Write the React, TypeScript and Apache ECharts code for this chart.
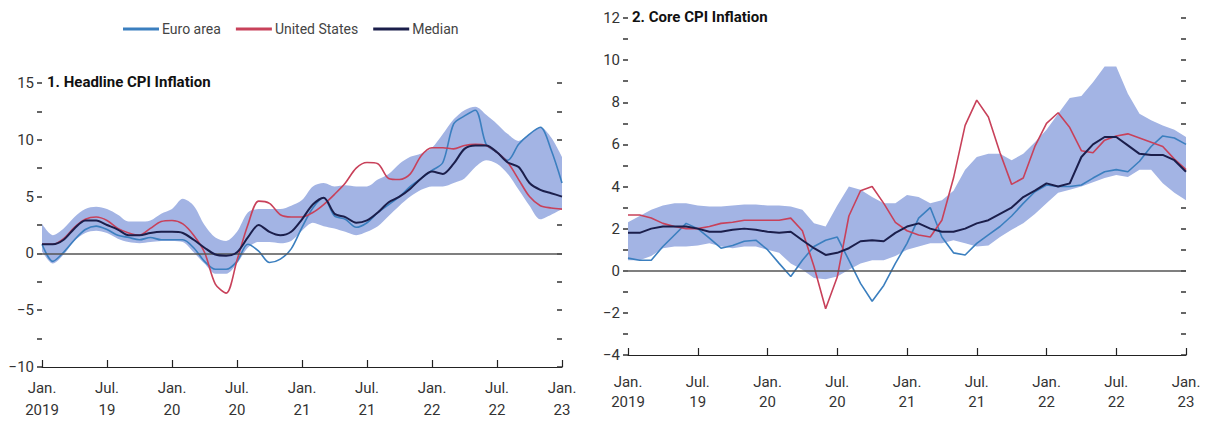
import React, { useEffect, useRef } from "react";
import * as echarts from "echarts";

const months = [
  "2019-01","2019-02","2019-03","2019-04","2019-05","2019-06","2019-07","2019-08","2019-09","2019-10","2019-11","2019-12",
  "2020-01","2020-02","2020-03","2020-04","2020-05","2020-06","2020-07","2020-08","2020-09","2020-10","2020-11","2020-12",
  "2021-01","2021-02","2021-03","2021-04","2021-05","2021-06","2021-07","2021-08","2021-09","2021-10","2021-11","2021-12",
  "2022-01","2022-02","2022-03","2022-04","2022-05","2022-06","2022-07","2022-08","2022-09","2022-10","2022-11","2022-12",
  "2023-01",
];
const tickLabels = ["Jan.\n2019", "Jul.\n19", "Jan.\n20", "Jul.\n20", "Jan.\n21", "Jul.\n21", "Jan.\n22", "Jul.\n22", "Jan.\n23"];
const legendNames = ["Euro area", "United States", "Median"];

// Panel 1: Headline CPI inflation
const headEuro = [0.8, -0.7, 0.1, 1.2, 2.1, 2.4, 2.1, 1.6, 1.4, 1.2, 1.4, 1.2, 1.2, 1.2, 0.5, -0.7, -1.4, -1.4, -0.7, 0.8, 0.2, -0.8, -0.5, 0.4, 2.3, 4.0, 4.9, 3.3, 3.0, 2.3, 2.7, 3.6, 4.3, 5.0, 5.9, 6.6, 7.3, 8.0, 11.4, 12.1, 12.6, 9.6, 8.9, 8.2, 9.6, 10.5, 11.1, 9.1, 6.2];
const headUS = [0.8, 0.8, 1.3, 2.3, 3.0, 3.2, 2.9, 2.2, 1.8, 1.6, 2.2, 2.8, 2.9, 2.6, 1.6, 0.1, -2.7, -3.5, -0.6, 2.5, 4.6, 4.4, 3.4, 3.2, 3.2, 3.6, 4.3, 5.2, 6.2, 7.5, 8.0, 7.9, 6.6, 6.5, 7.0, 8.6, 9.3, 9.3, 9.2, 9.5, 9.6, 9.5, 8.9, 8.0, 6.5, 5.0, 4.2, 4.0, 3.9];
const headMedian = [0.8, 0.8, 1.2, 2.2, 2.9, 2.9, 2.5, 2.1, 1.6, 1.6, 1.8, 1.9, 1.9, 1.8, 1.2, 0.5, -0.1, -0.2, 0.1, 1.4, 2.5, 1.9, 1.6, 1.9, 3.0, 4.3, 4.9, 3.5, 3.2, 2.7, 2.9, 3.6, 4.5, 5.0, 5.7, 6.6, 7.2, 7.0, 7.9, 9.2, 9.5, 9.5, 8.9, 8.0, 7.6, 6.2, 5.6, 5.3, 5.0];
const headLow = [0.2, -0.9, -0.1, 1.1, 1.8, 2.0, 1.8, 1.3, 1.0, 0.9, 1.0, 1.1, 1.1, 1.0, 0.1, -0.9, -1.8, -1.8, -0.9, 0.5, 1.0, 1.0, 0.9, 1.1, 2.0, 2.7, 2.4, 2.2, 1.9, 1.6, 1.9, 2.4, 3.3, 4.2, 5.0, 5.6, 5.9, 5.9, 6.2, 6.6, 7.6, 8.2, 7.9, 7.0, 5.6, 4.2, 3.0, 3.4, 3.9];
const headHigh = [2.6, 1.6, 2.2, 3.2, 3.9, 4.1, 3.9, 3.4, 2.8, 2.8, 2.9, 3.5, 3.9, 4.8, 4.2, 2.5, 1.4, 1.1, 1.9, 3.6, 3.9, 3.9, 3.9, 4.2, 4.7, 5.9, 6.2, 5.9, 6.0, 5.9, 5.9, 6.5, 7.0, 7.9, 8.5, 8.8, 9.3, 10.5, 11.8, 12.6, 12.9, 12.2, 11.4, 10.5, 9.9, 10.5, 11.1, 10.2, 8.5];

// Panel 2: Core CPI inflation
const coreEuro = [0.6, 0.5, 0.5, 1.15, 1.7, 2.25, 2.0, 1.55, 1.07, 1.2, 1.4, 1.45, 1.0, 0.35, -0.27, 0.5, 1.15, 1.45, 1.6, 0.5, -0.6, -1.45, -0.7, 0.35, 1.3, 2.5, 3.0, 1.6, 0.85, 0.75, 1.3, 1.7, 2.1, 2.6, 3.2, 3.75, 4.07, 4.0, 4.0, 4.07, 4.4, 4.7, 4.8, 4.7, 5.2, 5.9, 6.4, 6.3, 6.0];
const coreUS = [2.65, 2.65, 2.5, 2.25, 2.1, 2.0, 2.0, 2.1, 2.25, 2.3, 2.4, 2.4, 2.4, 2.4, 2.5, 1.9, 0.2, -1.8, -0.3, 2.6, 3.8, 4.0, 3.2, 2.3, 1.9, 1.7, 1.6, 2.4, 4.4, 6.9, 8.1, 7.3, 5.6, 4.1, 4.4, 5.9, 7.0, 7.5, 6.8, 5.7, 5.6, 6.2, 6.4, 6.5, 6.3, 6.1, 5.9, 5.3, 4.8];
const coreMedian = [1.8, 1.8, 2.0, 2.1, 2.1, 2.1, 2.0, 1.85, 1.85, 1.95, 2.0, 1.95, 1.85, 1.8, 1.85, 1.45, 1.07, 0.75, 0.85, 1.07, 1.4, 1.45, 1.4, 1.8, 2.1, 2.25, 2.0, 1.85, 1.85, 2.0, 2.25, 2.4, 2.7, 3.0, 3.5, 3.8, 4.15, 4.0, 4.15, 5.4, 6.0, 6.35, 6.35, 5.95, 5.55, 5.5, 5.5, 5.25, 4.7];
const coreLow = [0.5, 0.5, 0.7, 1.07, 1.15, 1.15, 1.2, 1.3, 1.15, 1.07, 1.15, 1.15, 1.0, 0.85, 0.35, 0.05, -0.35, -0.4, -0.27, 0.05, 0.35, 0.5, 0.5, 0.7, 1.0, 1.15, 1.3, 1.3, 1.45, 1.3, 1.15, 1.2, 1.6, 1.95, 2.25, 2.7, 3.2, 3.7, 3.85, 4.0, 4.2, 4.4, 4.55, 4.45, 4.8, 4.8, 4.15, 3.7, 3.35];
const coreHigh = [2.3, 2.6, 2.9, 3.1, 3.2, 3.2, 3.1, 3.05, 3.05, 3.1, 3.15, 3.15, 3.1, 3.1, 3.05, 2.9, 2.25, 2.1, 3.1, 4.0, 3.85, 3.5, 3.2, 3.2, 3.6, 3.5, 3.2, 3.35, 3.8, 4.8, 5.4, 5.55, 5.55, 5.25, 5.55, 6.1, 6.7, 7.45, 8.2, 8.3, 8.95, 9.7, 9.7, 8.4, 7.45, 7.15, 6.9, 6.7, 6.35];

const FONT = "Roboto, 'Liberation Sans', sans-serif";
const C_EURO = "#3b7fbf";
const C_US = "#c8415a";
const C_MED = "#1b1e4b";
const C_BAND = "#a3b4e4";

function fmtNum(v: number) {
  return v < 0 ? "\u2212" + Math.abs(v) : String(v);
}

function panelSeries(gi: number, euro: number[], us: number[], med: number[], low: number[], high: number[], smooth: number | boolean) {
  const stackName = "band" + gi;
  return [
    {
      type: "line", xAxisIndex: gi, yAxisIndex: gi * 2, data: low, stack: stackName, stackStrategy: "all",
      symbol: "none", lineStyle: { opacity: 0 }, silent: true, z: 1, smooth,
    },
    {
      type: "line", xAxisIndex: gi, yAxisIndex: gi * 2, data: high.map((h, i) => h - low[i]), stack: stackName, stackStrategy: "all",
      symbol: "none", lineStyle: { opacity: 0 }, areaStyle: { color: C_BAND, opacity: 1 }, silent: true, z: 1, smooth,
      markLine: {
        silent: true, symbol: "none", label: { show: false },
        lineStyle: { color: "#555", width: 1.5, type: "solid" },
        data: [{ yAxis: 0 }],
      },
    },
    { name: "Euro area", type: "line", xAxisIndex: gi, yAxisIndex: gi * 2, data: euro, symbol: "none", smooth, lineStyle: { color: C_EURO, width: 1.6 }, itemStyle: { color: C_EURO }, z: 3 },
    { name: "United States", type: "line", xAxisIndex: gi, yAxisIndex: gi * 2, data: us, symbol: "none", smooth, lineStyle: { color: C_US, width: 1.6 }, itemStyle: { color: C_US }, z: 4 },
    { name: "Median", type: "line", xAxisIndex: gi, yAxisIndex: gi * 2, data: med, symbol: "none", smooth, lineStyle: { color: C_MED, width: 2 }, itemStyle: { color: C_MED }, z: 5 },
  ];
}

function xAxisFor(gi: number, margin: number, lineHeight: number) {
  return {
    gridIndex: gi, type: "category", data: months, boundaryGap: false,
    axisLine: { show: true, onZero: false, lineStyle: { color: "#222", width: 1.2 } },
    axisTick: { show: true, inside: true, length: 7, interval: 5, lineStyle: { color: "#222", width: 1.2 } },
    axisLabel: {
      interval: 5, margin, fontSize: 15, lineHeight, color: "#333", fontFamily: FONT,
      formatter: (_v: string, idx: number) => tickLabels[Math.round(idx / 6)] || "",
    },
    splitLine: { show: false },
  };
}

function yAxesFor(gi: number, min: number, max: number, interval: number, labelEvery: number) {
  const common = {
    gridIndex: gi, type: "value", min, max, interval,
    splitLine: { show: false },
    axisLine: { show: false },
  };
  return [
    {
      ...common, position: "left",
      axisTick: { show: true, length: 5, lineStyle: { color: "#333", width: 1.5 } },
      axisLabel: {
        margin: 8, fontSize: 15, color: "#333", fontFamily: FONT,
        formatter: (v: number) => (Math.abs(v % labelEvery) < 1e-9 ? fmtNum(v) : ""),
      },
    },
    {
      ...common, position: "right",
      axisTick: { show: true, inside: true, length: 5, lineStyle: { color: "#333", width: 1.5 } },
      axisLabel: { show: false },
    },
  ];
}

export default function App() {
  const ref = useRef<HTMLDivElement>(null);
  useEffect(() => {
    if (!ref.current) return;
    const chart = echarts.init(ref.current, undefined, { renderer: "svg" });
    chart.setOption({
      animation: false,
      backgroundColor: "#ffffff",
      textStyle: { fontFamily: FONT },
      title: [
        { text: "1. Headline CPI Inflation", left: 47, top: 74, padding: 0, textStyle: { fontSize: 15, fontWeight: "bold", color: "#111", fontFamily: FONT } },
        { text: "2. Core CPI Inflation", left: 632, top: 9, padding: 0, textStyle: { fontSize: 15, fontWeight: "bold", color: "#111", fontFamily: FONT } },
      ],
      legend: {
        data: legendNames, left: 123, top: 22, padding: 0, icon: "rect", itemWidth: 36, itemHeight: 3, itemGap: 15,
        textStyle: { fontSize: 14, color: "#444", fontFamily: FONT, padding: [0, 0, 0, -2] },
      },
      grid: [
        { left: 42, top: 83, width: 520, height: 285, containLabel: false },
        { left: 628, top: 18, width: 558, height: 337, containLabel: false },
      ],
      xAxis: [xAxisFor(0, 10, 22), xAxisFor(1, 17, 20)],
      yAxis: [...yAxesFor(0, -10, 15, 2.5, 5), ...yAxesFor(1, -4, 12, 1, 2)],
      series: [
        ...panelSeries(0, headEuro, headUS, headMedian, headLow, headHigh, 0.3),
        ...panelSeries(1, coreEuro, coreUS, coreMedian, coreLow, coreHigh, false),
      ],
    });
    return () => chart.dispose();
  }, []);
  return <div ref={ref} style={{ position: "absolute", left: 0, top: 0, width: 1206, height: 421 }} />;
}
